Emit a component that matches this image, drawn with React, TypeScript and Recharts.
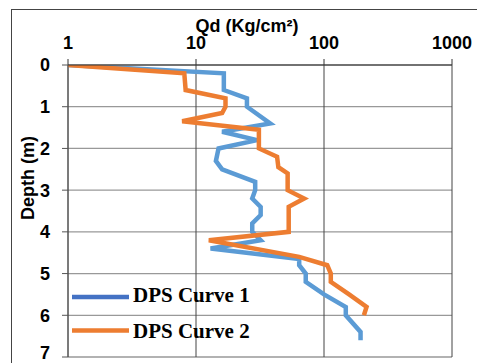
import { LineChart, Line, XAxis, YAxis, CartesianGrid, Legend } from "recharts";

// DPS curve 1 (blue)
const depth1 = [0, 0.2, 0.6, 0.8, 1.0, 1.4, 1.6, 1.8, 2.0, 2.3, 2.5, 2.8, 3.0, 3.2, 3.4, 3.6, 3.8, 4.0, 4.2, 4.4, 4.65, 4.8, 5.0, 5.2, 5.5, 5.8, 6.0, 6.4, 6.6];
const qd1 = [1, 16.5, 16.5, 25, 25, 38, 16, 30, 15, 14.3, 16, 29, 29, 27.5, 32, 32, 27.5, 27.5, 32, 13, 64, 64, 72, 72, 100, 148, 148, 193, 193];

// DPS curve 2 (orange)
const depth2 = [0, 0.2, 0.6, 0.8, 1.0, 1.15, 1.35, 1.55, 2.0, 2.2, 2.45, 2.6, 3.0, 3.2, 3.4, 4.0, 4.2, 4.6, 4.8, 5.0, 5.2, 5.5, 5.8, 6.0];
const qd2 = [1, 8.1, 8.3, 17, 17, 16, 7.8, 31, 31, 43, 44, 52, 52, 70, 53, 53, 12.6, 64, 106, 113, 113, 157, 215, 205];

const xTicks = [1, 10, 100, 1000];
const yTicks = [0, 1, 2, 3, 4, 5, 6, 7];

const series = [
  { name: "DPS Curve 1", color: "#5B9BD5", swatch: "#4472C4", data: depth1.map((d, i) => ({ depth: d, qd: qd1[i] })) },
  { name: "DPS Curve 2", color: "#ED7D31", swatch: "#ED7D31", data: depth2.map((d, i) => ({ depth: d, qd: qd2[i] })) },
];

const tickStyle = {
  fill: "#000",
  fontSize: 18,
  fontWeight: "bold" as const,
  fontFamily: "'Liberation Sans', Arial, sans-serif",
};

const renderLegend = () => (
  <svg width={200} height={70}>
    {series.map((s, i) => (
      <g key={s.name}>
        <line x1={1} x2={58} y1={17 + i * 33.5} y2={17 + i * 33.5} stroke={s.swatch} strokeWidth={4.5} />
        <text
          x={62}
          y={22 + i * 36}
          fontSize={21}
          fontWeight="bold"
          fontFamily="'Liberation Serif', 'Times New Roman', serif"
          fill="#000"
        >
          {s.name}
        </text>
      </g>
    ))}
  </svg>
);

export default function App() {
  return (
    <div style={{ position: "fixed", left: 0, top: 0, width: 477, height: 363, overflow: "hidden", background: "#fff" }}>
      <div
        style={{
          position: "absolute",
          left: 11,
          top: 9,
          width: 600,
          height: 600,
          borderTop: "1px solid #444",
          borderLeft: "1px solid #444",
        }}
      />
      <LineChart
        width={477}
        height={363}
        layout="vertical"
        margin={{ top: 0, right: 25, bottom: 6, left: 0 }}
        style={{ position: "absolute", left: 0, top: 0 }}
      >
        <CartesianGrid horizontal={true} vertical={false} stroke="#999" strokeWidth={1.3} />
        <CartesianGrid horizontal={false} vertical={true} stroke="#444" strokeWidth={1} />
        <XAxis
          type="number"
          dataKey="qd"
          scale="log"
          domain={[1, 1000]}
          ticks={xTicks}
          orientation="top"
          height={65}
          tick={tickStyle}
          tickMargin={10}
          stroke="#333"
          allowDataOverflow
          label={{
            content: () => (
              <text x={247} y={32} textAnchor="middle" fontSize={18} fontWeight="bold" fontFamily="'Liberation Sans', Arial, sans-serif" fill="#000">
                Qd (Kg/cm²)
              </text>
            ),
          }}
        />
        <YAxis
          type="number"
          dataKey="depth"
          domain={[0, 7]}
          ticks={yTicks}
          width={68}
          tick={tickStyle}
          tickMargin={12}
          stroke="#555"
          allowDataOverflow
          label={{
            content: () => (
              <text
                x={34}
                y={178}
                transform="rotate(-90 34 178)"
                textAnchor="middle"
                fontSize={18}
                fontWeight="bold"
                fontFamily="'Liberation Sans', Arial, sans-serif"
                fill="#000"
              >
                Depth (m)
              </text>
            ),
          }}
        />
        {series.map((s) => (
          <Line
            key={s.name}
            name={s.name}
            data={s.data}
            dataKey="qd"
            stroke={s.color}
            strokeWidth={4.5}
            dot={false}
            type="linear"
            isAnimationActive={false}
          />
        ))}
        <Legend
          layout="horizontal"
          verticalAlign="middle"
          align="center"
          content={renderLegend}
          wrapperStyle={{ left: 71, top: 280, width: 200, height: 70 }}
        />
      </LineChart>
    </div>
  );
}
